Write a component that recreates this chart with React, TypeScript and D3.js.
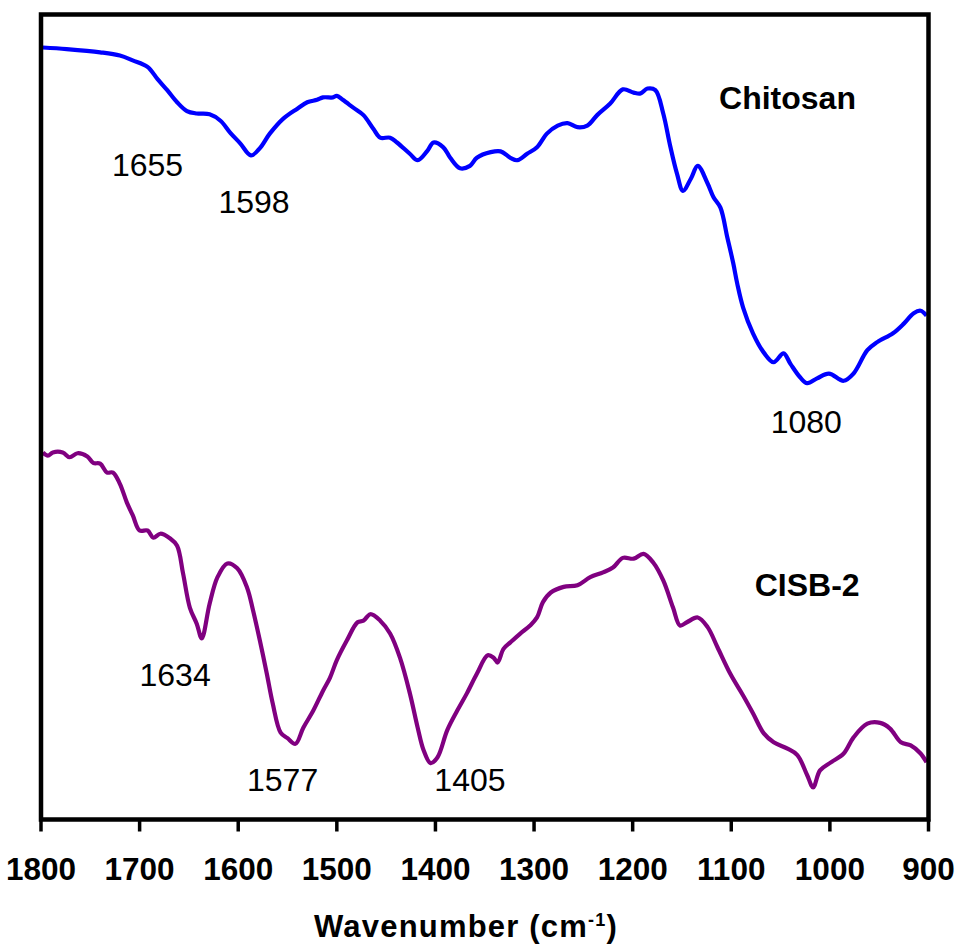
import React from "react";
import * as d3 from "d3";

// Chitosan spectrum (wavenumber cm-1, transmittance a.u.)
const chitosanWn = [1798,1774,1740,1720,1707,1692,1682,1672,1662,1652,1642,1629,1618,1608,1598,1587,1578,1568,1554,1540,1530,1520,1514,1504,1500,1494,1483,1473,1463,1456,1446,1439,1426,1418,1408,1402,1392,1385,1375,1365,1358,1344,1334,1324,1317,1307,1297,1287,1276,1266,1256,1246,1236,1223,1210,1199,1192,1185,1177,1169,1162,1155,1149,1141,1134,1124,1118,1111,1104,1098,1094,1088,1078,1067,1057,1047,1040,1030,1023,1013,1001,986,976,962,952,936,925,915,908,902];
const chitosanT = [95.9,95.7,95.3,94.9,94.3,93.5,92.0,90.6,89.1,88.0,87.7,87.6,86.8,85.3,84.0,82.5,83.4,85.2,87.1,88.3,89.1,89.4,89.7,89.7,89.9,89.4,88.4,87.5,85.8,84.7,84.7,84.1,82.7,81.9,83.1,84.1,83.5,82.2,80.9,81.2,82.2,82.9,83.0,82.2,81.9,82.7,83.5,85.2,86.2,86.5,86.0,86.2,87.5,88.9,90.7,90.3,90.2,90.8,90.6,87.7,83.7,80.2,78.1,79.6,81.2,79.0,77.3,76.0,72.3,69.1,66.6,63.6,60.4,58.0,56.8,57.9,56.6,54.9,54.2,54.8,55.4,54.5,55.4,58.3,59.3,60.4,61.6,62.9,63.2,62.6];

// CISB-2 spectrum
const cisbWn = [1798,1793,1788,1778,1771,1763,1753,1747,1740,1733,1727,1720,1713,1707,1700,1692,1686,1679,1669,1662,1656,1649,1642,1637,1629,1621,1611,1601,1591,1585,1578,1571,1565,1557,1550,1542,1534,1524,1514,1507,1500,1490,1479,1473,1466,1456,1446,1436,1426,1418,1412,1405,1398,1388,1378,1368,1358,1347,1341,1337,1331,1324,1314,1304,1297,1291,1283,1270,1256,1243,1230,1220,1210,1199,1189,1179,1169,1159,1152,1145,1134,1124,1114,1101,1088,1078,1067,1057,1043,1033,1023,1017,1010,999,986,976,962,949,939,928,918,908,902];
const cisbT = [45.6,45.2,45.6,45.6,45.0,45.5,45.1,44.3,44.2,43.1,43.1,41.7,39.4,37.8,35.9,35.9,35.0,35.5,34.9,34.0,30.6,26.3,24.3,22.5,26.8,30.1,31.8,31.2,28.8,26.0,22.2,18.1,14.4,10.8,10.1,9.4,11.4,13.5,16.0,17.6,19.8,22.2,24.5,24.7,25.5,24.7,23.1,20.1,15.7,11.4,8.6,7.0,7.7,11.1,13.5,15.7,18.1,20.4,20.1,19.5,21.2,22.0,23.1,24.1,25.1,27.0,28.2,28.9,29.1,30.1,30.7,31.3,32.5,32.4,33.0,31.9,29.7,26.3,24.1,24.5,25.1,23.9,21.4,18.1,15.4,13.2,10.7,9.6,8.8,8.0,5.5,4.0,6.1,7.1,8.2,10.2,11.9,12.0,11.3,9.6,9.2,8.2,7.1];

const xTicks = [1800,1700,1600,1500,1400,1300,1200,1100,1000,900];

// Peak labels anchored in data coordinates
const peakLabels = ["1655","1598","1080","1634","1577","1405"];
const peakWn = [1692,1584,1024,1664,1555,1365];
const peakT = [80.0,75.3,48.0,16.6,3.5,3.5];

const seriesNames = ["Chitosan","CISB-2"];
const seriesNameWn = [1043,1023];
const seriesNameT = [88.3,27.8];

const W = 961, H = 949;
const FONT = "'Liberation Sans', Arial, Helvetica, sans-serif";

export default function App() {
  const x = d3.scaleLinear().domain([1800, 900]).range([41, 928.5]);
  const y = d3.scaleLinear().domain([0, 100]).range([819.5, 14.5]);
  const line = d3.line<[number, number]>()
    .x(d => x(d[0]))
    .y(d => y(d[1]))
    .curve(d3.curveCatmullRom.alpha(0.5));
  const chit = chitosanWn.map((w, i) => [w, chitosanT[i]] as [number, number]);
  const cisb = cisbWn.map((w, i) => [w, cisbT[i]] as [number, number]);
  const [x0, x1] = x.range();
  const [yb, yt] = y.range();

  return (
    <svg width={W} height={H} style={{ position: "absolute", left: 0, top: 0, background: "#fff" }} fontFamily={FONT}>
      <rect x={0} y={0} width={W} height={H} fill="#fff" />
      <path d={line(chit) || ""} fill="none" stroke="#0000ff" strokeWidth={4.2} strokeLinejoin="round" />
      <path d={line(cisb) || ""} fill="none" stroke="#800080" strokeWidth={4.2} strokeLinejoin="round" />
      <rect x={x0} y={yt} width={x1 - x0} height={yb - yt} fill="none" stroke="#000" strokeWidth={4.5} />
      {xTicks.map(t => (
        <g key={t}>
          <line x1={x(t)} x2={x(t)} y1={yb} y2={yb + 12} stroke="#000" strokeWidth={3.5} />
          <text x={x(t)} y={880} textAnchor="middle" fontSize={31.5} fontWeight="bold" fill="#000">{t}</text>
        </g>
      ))}
      <text x={466} y={937} textAnchor="middle" fontSize={31} fontWeight="bold" letterSpacing={1.2} fill="#000">
        Wavenumber (cm<tspan fontSize={18} dy={-11}>-1</tspan><tspan dy={11}>)</tspan>
      </text>
      {peakLabels.map((l, i) => (
        <text key={l} x={x(peakWn[i])} y={y(peakT[i])} textAnchor="middle" fontSize={32} fill="#000">{l}</text>
      ))}
      {seriesNames.map((n, i) => (
        <text key={n} x={x(seriesNameWn[i])} y={y(seriesNameT[i])} textAnchor="middle" fontSize={32} fontWeight="bold" fill="#000">{n}</text>
      ))}
    </svg>
  );
}
